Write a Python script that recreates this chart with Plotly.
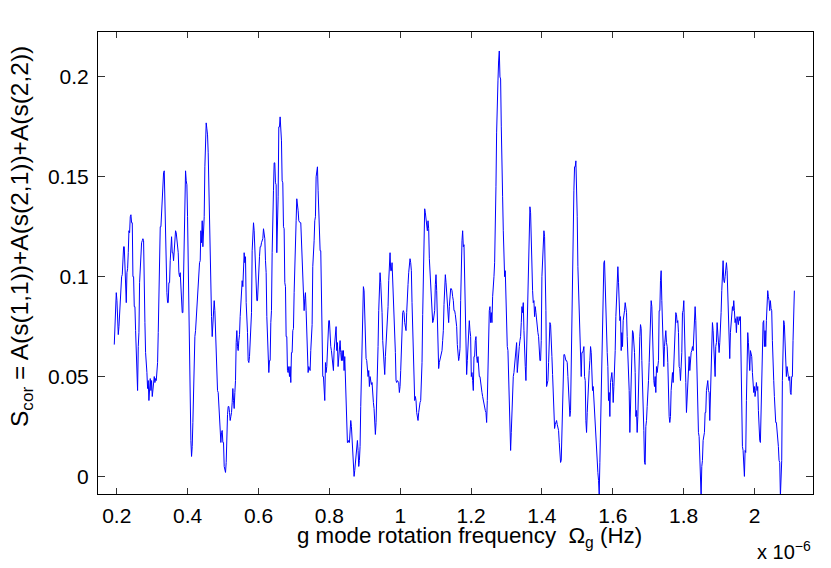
import numpy as np
import plotly.graph_objects as go

# Frequency grid (units of 1e-6 Hz)
freq_start = 0.19295
freq_step = 0.00188

# S_cor values
s_cor_band1 = [
    0.066, 0.078, 0.088, 0.092, 0.088, 0.071, 0.071, 0.075, 0.083, 0.091,
    0.091, 0.100, 0.101, 0.115, 0.115, 0.115, 0.105, 0.090, 0.087, 0.102,
    0.104, 0.112, 0.123, 0.122, 0.130, 0.131, 0.127, 0.127, 0.100, 0.100,
    0.085, 0.085, 0.073, 0.062, 0.050, 0.043, 0.065, 0.072, 0.097, 0.107,
    0.108, 0.117, 0.118, 0.119, 0.118, 0.077, 0.077, 0.062, 0.052, 0.052,
    0.044, 0.048, 0.038, 0.048, 0.049, 0.043, 0.048, 0.040, 0.045, 0.050,
    0.050, 0.047, 0.049, 0.048, 0.052, 0.057, 0.072, 0.100, 0.100, 0.125,
    0.125, 0.132, 0.143, 0.150, 0.152, 0.153, 0.132, 0.122, 0.095, 0.092,
    0.087, 0.087, 0.097, 0.097, 0.108, 0.120, 0.120, 0.112, 0.112, 0.108,
    0.115, 0.119, 0.123, 0.122, 0.118, 0.118, 0.112, 0.102, 0.100, 0.102,
    0.093, 0.088, 0.082, 0.082, 0.100, 0.118, 0.148, 0.153, 0.148, 0.146,
    0.130, 0.105, 0.080, 0.057,
]
s_cor_band2 = [
    0.027, 0.018, 0.010, 0.015, 0.027, 0.045, 0.063, 0.070, 0.073, 0.079,
    0.082, 0.088, 0.093, 0.098, 0.107, 0.108, 0.123, 0.117, 0.128, 0.115,
    0.125, 0.130, 0.155, 0.167, 0.177, 0.174, 0.171, 0.162, 0.142, 0.129,
    0.112, 0.095, 0.080, 0.070, 0.077, 0.086, 0.088, 0.083, 0.070, 0.058,
    0.048, 0.043, 0.042, 0.037, 0.030, 0.022, 0.017, 0.022, 0.023, 0.017,
    0.017, 0.005, 0.002, 0.002, 0.007, 0.030, 0.031, 0.035, 0.035, 0.032,
    0.028, 0.030, 0.032, 0.037, 0.044, 0.038, 0.034, 0.042, 0.048, 0.067,
    0.073, 0.065, 0.063, 0.068, 0.071, 0.080, 0.088, 0.088, 0.098, 0.095,
    0.110, 0.112, 0.107, 0.110, 0.087, 0.082, 0.072, 0.058, 0.057, 0.060,
    0.070, 0.072, 0.082, 0.113, 0.118, 0.127, 0.123, 0.113, 0.112, 0.097,
    0.088, 0.088, 0.098, 0.110, 0.110, 0.115, 0.115, 0.117, 0.118, 0.119,
    0.124, 0.119, 0.119, 0.108, 0.102, 0.080, 0.073, 0.058, 0.052, 0.058,
    0.058, 0.077, 0.083, 0.112, 0.143, 0.143, 0.157, 0.157, 0.147, 0.146,
    0.112, 0.122, 0.140, 0.175, 0.175,
]
s_cor_band3 = [
    0.180, 0.175, 0.168, 0.148, 0.147, 0.125, 0.124, 0.097, 0.095, 0.070,
    0.070, 0.053, 0.052, 0.055, 0.050, 0.055, 0.047, 0.062, 0.062, 0.073,
    0.074, 0.092, 0.110, 0.127, 0.128, 0.139, 0.133, 0.133, 0.128, 0.127,
    0.127, 0.127, 0.117, 0.105, 0.095, 0.090, 0.083, 0.089, 0.092, 0.083,
    0.070, 0.053, 0.052, 0.055, 0.053, 0.053, 0.063, 0.075, 0.076, 0.105,
    0.118, 0.118, 0.128, 0.130, 0.150, 0.152, 0.155, 0.143, 0.132, 0.113,
    0.113, 0.113, 0.088, 0.072, 0.050, 0.050, 0.042, 0.038, 0.057, 0.052,
    0.055, 0.063, 0.075, 0.078, 0.078, 0.067, 0.065, 0.063, 0.060, 0.058,
    0.053, 0.063, 0.067, 0.073, 0.075, 0.063, 0.067, 0.055, 0.060, 0.062,
    0.068, 0.062, 0.058, 0.063, 0.058, 0.063, 0.053, 0.060, 0.048, 0.038,
    0.025, 0.017, 0.017, 0.018, 0.017, 0.028, 0.028, 0.025, 0.017, 0.010,
    0.005, 0.000, 0.003, 0.008, 0.013, 0.017, 0.018, 0.013, 0.005, 0.008,
    0.015, 0.035, 0.047, 0.072, 0.075, 0.095, 0.093, 0.077, 0.070, 0.059,
    0.058, 0.053, 0.050, 0.053, 0.045,
]
s_cor_band4 = [
    0.050, 0.047, 0.046, 0.047, 0.040, 0.037, 0.034, 0.025, 0.021, 0.027,
    0.037, 0.048, 0.065, 0.083, 0.097, 0.102, 0.097, 0.092, 0.082, 0.068,
    0.060, 0.052, 0.051, 0.060, 0.066, 0.070, 0.073, 0.085, 0.098, 0.108,
    0.112, 0.103, 0.103, 0.107, 0.098, 0.092, 0.087, 0.075, 0.062, 0.048,
    0.047, 0.048, 0.047, 0.047, 0.042, 0.045, 0.053, 0.067, 0.078, 0.082,
    0.083, 0.082, 0.077, 0.074, 0.073, 0.082, 0.093, 0.096, 0.102, 0.106,
    0.109, 0.107, 0.103, 0.087, 0.070, 0.053, 0.038, 0.038, 0.040, 0.038,
    0.032, 0.028, 0.028, 0.032, 0.037, 0.037, 0.038, 0.048, 0.057, 0.081,
    0.105, 0.122, 0.134, 0.132, 0.128, 0.123, 0.123, 0.128, 0.124, 0.109,
    0.102, 0.093, 0.086, 0.083, 0.077, 0.078, 0.080, 0.083, 0.096, 0.101,
    0.093, 0.079, 0.063, 0.054, 0.057, 0.059, 0.061, 0.063, 0.063, 0.068,
    0.073, 0.086, 0.098, 0.101, 0.097, 0.091, 0.085, 0.078, 0.077, 0.085,
    0.093, 0.094, 0.094, 0.093, 0.090, 0.088, 0.083, 0.083, 0.081, 0.078,
    0.075, 0.066, 0.060, 0.058, 0.060,
]
s_cor_band5 = [
    0.064, 0.088, 0.109, 0.118, 0.123, 0.115, 0.116, 0.100, 0.075, 0.058,
    0.051, 0.058, 0.068, 0.077, 0.078, 0.073, 0.070, 0.050, 0.052, 0.048,
    0.043, 0.060, 0.060, 0.068, 0.070, 0.060, 0.057, 0.060, 0.052, 0.050,
    0.050, 0.047, 0.042, 0.042, 0.040, 0.038, 0.035, 0.035, 0.033, 0.032,
    0.027, 0.038, 0.055, 0.065, 0.083, 0.085, 0.077, 0.082, 0.077, 0.090,
    0.099, 0.100, 0.107, 0.122, 0.145, 0.172, 0.193, 0.198, 0.208, 0.213,
    0.200, 0.199, 0.175, 0.163, 0.140, 0.123, 0.113, 0.100, 0.103, 0.085,
    0.084, 0.065, 0.063, 0.050, 0.042, 0.022, 0.013, 0.022, 0.033, 0.047,
    0.050, 0.052, 0.055, 0.058, 0.062, 0.067, 0.052, 0.058, 0.063, 0.065,
    0.068, 0.070, 0.077, 0.085, 0.082, 0.087, 0.073, 0.058, 0.055, 0.048,
    0.063, 0.078, 0.098, 0.112, 0.128, 0.135, 0.132, 0.112, 0.097, 0.093,
    0.087, 0.088, 0.080, 0.085, 0.082, 0.078, 0.073, 0.072, 0.070, 0.058,
    0.058, 0.058, 0.068, 0.100, 0.108, 0.115, 0.123, 0.120, 0.108, 0.083,
    0.045, 0.047, 0.048, 0.057, 0.065,
]
s_cor_band6 = [
    0.077, 0.076, 0.070, 0.060, 0.051, 0.044, 0.032, 0.024, 0.026, 0.028,
    0.028, 0.026, 0.024, 0.023, 0.017, 0.009, 0.007, 0.008, 0.022, 0.040,
    0.053, 0.061, 0.061, 0.059, 0.058, 0.058, 0.057, 0.050, 0.041, 0.030,
    0.030, 0.033, 0.060, 0.062, 0.118, 0.130, 0.143, 0.155, 0.155, 0.158,
    0.147, 0.130, 0.105, 0.093, 0.087, 0.068, 0.052, 0.050, 0.062, 0.062,
    0.063, 0.065, 0.050, 0.048, 0.028, 0.022, 0.032, 0.042, 0.047, 0.053,
    0.058, 0.065, 0.062, 0.055, 0.043, 0.045, 0.038, 0.030, 0.025, 0.017,
    0.010, 0.002, 0.002, -0.002, -0.009, 0.007, 0.025, 0.027, 0.060, 0.060,
    0.088, 0.107, 0.108, 0.093, 0.088, 0.075, 0.062, 0.055, 0.038, 0.042,
    0.030, 0.047, 0.050, 0.052, 0.047, 0.037, 0.045, 0.053, 0.063, 0.080,
    0.090, 0.097, 0.105, 0.097, 0.083, 0.078, 0.080, 0.063, 0.072, 0.065,
    0.078, 0.080, 0.083, 0.087, 0.085, 0.082, 0.070, 0.062, 0.047, 0.043,
    0.022, 0.038, 0.043, 0.062, 0.073, 0.072, 0.068, 0.062, 0.052, 0.030,
    0.033, 0.022, 0.030, 0.043, 0.065,
]
s_cor_band7 = [
    0.070, 0.076, 0.074, 0.058, 0.047, 0.046, 0.023, 0.007, 0.006, 0.025,
    0.028, 0.035, 0.047, 0.048, 0.057, 0.073, 0.075, 0.088, 0.085, 0.068,
    0.068, 0.048, 0.045, 0.050, 0.042, 0.055, 0.052, 0.057, 0.058, 0.083,
    0.083, 0.098, 0.103, 0.088, 0.072, 0.062, 0.055, 0.065, 0.073, 0.073,
    0.067, 0.065, 0.057, 0.032, 0.030, 0.027, 0.030, 0.043, 0.047, 0.052,
    0.047, 0.057, 0.062, 0.072, 0.082, 0.081, 0.077, 0.078, 0.072, 0.055,
    0.054, 0.048, 0.055, 0.062, 0.082, 0.083, 0.088, 0.078, 0.063, 0.047,
    0.032, 0.038, 0.042, 0.053, 0.060, 0.053, 0.062, 0.062, 0.063, 0.065,
    0.063, 0.073, 0.075, 0.085, 0.078, 0.063, 0.047, 0.030, 0.022, 0.020,
    0.008, -0.010, -0.010, 0.005, 0.008, 0.018, 0.022, 0.022, 0.032, 0.032,
    0.043, 0.048, 0.048, 0.043, 0.042, 0.028, 0.042, 0.062, 0.073, 0.077,
    0.073, 0.065, 0.052, 0.050, 0.065, 0.067, 0.077, 0.073, 0.068, 0.062,
    0.067, 0.072, 0.082, 0.093, 0.107, 0.108, 0.098, 0.097, 0.100, 0.107,
    0.107, 0.103, 0.088, 0.082, 0.073,
]
s_cor_band8 = [
    0.059, 0.072, 0.078, 0.082, 0.085, 0.083, 0.088, 0.083, 0.077, 0.079,
    0.072, 0.080, 0.076, 0.076, 0.080, 0.078, 0.080, 0.048, 0.048, 0.015,
    0.013, 0.002, 0.000, 0.013, 0.012, 0.038, 0.057, 0.072, 0.067, 0.062,
    0.053, 0.063, 0.062, 0.060, 0.052, 0.048, 0.042, 0.045, 0.040, 0.043,
    0.047, 0.043, 0.045, 0.033, 0.018, 0.018, 0.017, 0.037, 0.037, 0.058,
    0.077, 0.078, 0.065, 0.073, 0.065, 0.078, 0.085, 0.093, 0.090, 0.088,
    0.083, 0.088, 0.084, 0.083, 0.068, 0.050, 0.048, 0.040, 0.032, 0.027,
    0.027, 0.023, 0.023, 0.015, 0.008, 0.007, -0.010, 0.007, 0.008, 0.048,
    0.062, 0.078, 0.076, 0.067, 0.055, 0.050, 0.055, 0.050, 0.050, 0.048,
    0.050, 0.042, 0.041, 0.050, 0.050, 0.068, 0.080, 0.093,
]

x_tick_vals = [0.2, 0.4, 0.6, 0.8, 1.0, 1.2, 1.4, 1.6, 1.8, 2.0]
x_tick_text = ["0.2", "0.4", "0.6", "0.8", "1", "1.2", "1.4", "1.6", "1.8", "2"]
y_tick_vals = [0, 0.05, 0.1, 0.15, 0.2]
y_tick_text = ["0", "0.05", "0.1", "0.15", "0.2"]

x_label = "g mode rotation frequency&nbsp; Ω<sub>g</sub> (Hz)"
y_label = "S<sub>cor</sub> = A(s(1,1))+A(s(2,1))+A(s(2,2))"
x_exponent = "x 10<sup>−6</sup>"

s_cor = (s_cor_band1 + s_cor_band2 + s_cor_band3 + s_cor_band4
         + s_cor_band5 + s_cor_band6 + s_cor_band7 + s_cor_band8)
freq = freq_start + freq_step * np.arange(len(s_cor))

FONT = "Liberation Sans, Arial, Helvetica, sans-serif"

fig = go.Figure(
    go.Scatter(x=freq, y=s_cor, mode="lines",
               line=dict(color="#0000ff", width=1), hoverinfo="skip")
)

fig.update_layout(
    width=831, height=568,
    margin=dict(l=98, r=18, t=32, b=74, pad=0, autoexpand=False),
    paper_bgcolor="white", plot_bgcolor="white",
    showlegend=False,
    font=dict(family=FONT, size=21, color="black"),
)

fig.update_xaxes(
    range=[0.147, 2.165], automargin=False,
    tickmode="array", tickvals=x_tick_vals, ticktext=x_tick_text,
    ticks="inside", ticklen=6, tickwidth=1, tickcolor="#333333",
    showline=True, linewidth=1, linecolor="black", mirror="ticks",
    showgrid=False, zeroline=False, ticklabelstandoff=3,
    tickfont=dict(family=FONT, size=21, color="black"),
)
fig.update_yaxes(
    range=[-0.0088, 0.2225], automargin=False,
    tickmode="array", tickvals=y_tick_vals, ticktext=y_tick_text,
    ticks="inside", ticklen=7, tickwidth=1, tickcolor="#333333",
    showline=True, linewidth=1, linecolor="black", mirror="ticks",
    showgrid=False, zeroline=False, ticklabelstandoff=4,
    tickfont=dict(family=FONT, size=21, color="black"),
)

fig.add_annotation(
    text=x_label, xref="paper", yref="paper",
    x=(469 - 98) / 715, y=0, xanchor="center", yanchor="middle",
    yshift=-43, showarrow=False,
    font=dict(family=FONT, size=22.3, color="black"),
)
fig.add_annotation(
    text=y_label, xref="paper", yref="paper",
    x=0, y=(494 - 237) / 462, xanchor="center", yanchor="middle",
    xshift=-77, textangle=-90, showarrow=False,
    font=dict(family=FONT, size=24.5, color="black"),
)
fig.add_annotation(
    text=x_exponent, xref="paper", yref="paper",
    x=1, y=0, xanchor="right", yanchor="middle",
    yshift=-56, xshift=0, showarrow=False,
    font=dict(family=FONT, size=20, color="black"),
)

fig.write_html(
    "out.html",
    config={"displayModeBar": False},
    post_script="document.body.style.margin='0';",
)
